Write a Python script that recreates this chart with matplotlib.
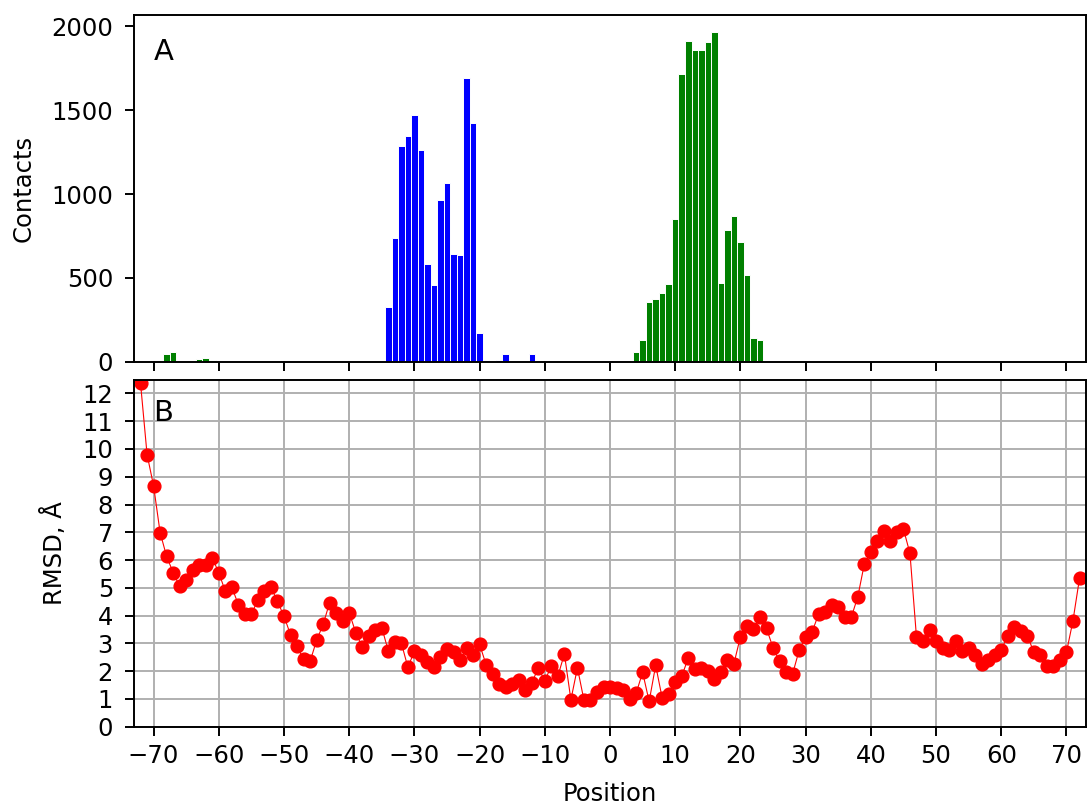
import numpy as np
import matplotlib
matplotlib.use("Agg")
import matplotlib.pyplot as plt

# contacts per position (two chains)
blue_pos = [-35, -34, -33, -32, -31, -30, -29, -28, -27, -26, -25, -24, -23,
            -22, -21, -20, -19, -17, -16, -12]
blue_vals = [6, 328, 737, 1287, 1348, 1474, 1265, 582, 457, 967, 1063, 645, 636,
             1690, 1426, 173, 12, 10, 44, 47]

green_pos = [-68, -67, -63, -62, -61,
             4, 5, 6, 7, 8, 9, 10, 11, 12, 13, 14, 15, 16, 17, 18, 19, 20,
             21, 22, 23, 24]
green_vals = [44, 58, 16, 24, 10,
              56, 129, 357, 371, 407, 461, 854, 1714, 1911, 1861, 1857, 1907,
              1964, 467, 788, 868, 715, 516, 143, 129, 4]

# RMSD per position, -72 .. 72
rmsd_pos = list(range(-72, 73))
rmsd = [12.36, 9.8, 8.67, 6.99, 6.13, 5.55, 5.05, 5.27, 5.63, 5.83,   # -72..-63
        5.81, 6.07, 5.55, 4.87, 5.03, 4.39, 4.07, 4.07, 4.55, 4.87,   # -62..-53
        5.03, 4.51, 3.98, 3.31, 2.89, 2.42, 2.35, 3.11, 3.68, 4.47,   # -52..-43
        4.11, 3.81, 4.11, 3.39, 2.87, 3.27, 3.47, 3.57, 2.72, 3.05,   # -42..-33
        3.01, 2.14, 2.72, 2.57, 2.33, 2.14, 2.51, 2.81, 2.69, 2.39,   # -32..-23
        2.83, 2.59, 2.96, 2.23, 1.88, 1.54, 1.42, 1.54, 1.69, 1.33,   # -22..-13
        1.57, 2.12, 1.64, 2.2, 1.82, 2.62, 0.97, 2.12, 0.96, 0.97,    # -12..-3
        1.24, 1.44, 1.44, 1.39, 1.33, 0.99, 1.2, 1.96, 0.91, 2.21,    # -2..7
        1.03, 1.18, 1.6, 1.82, 2.47, 2.08, 2.12, 2.0, 1.72, 1.96,     # 8..17
        2.39, 2.27, 3.24, 3.62, 3.5, 3.94, 3.54, 2.84, 2.35, 1.96,    # 18..27
        1.9, 2.75, 3.24, 3.42, 4.06, 4.12, 4.38, 4.3, 3.94, 3.94,     # 28..37
        4.68, 5.86, 6.28, 6.7, 7.06, 6.67, 7.0, 7.12, 6.24, 3.22,     # 38..47
        3.07, 3.48, 3.1, 2.83, 2.76, 3.1, 2.74, 2.83, 2.58, 2.26,     # 48..57
        2.4, 2.59, 2.77, 3.28, 3.6, 3.46, 3.28, 2.68, 2.59, 2.2,      # 58..67
        2.17, 2.4, 2.68, 3.82, 5.34]                                  # 68..72

s = 1.75  # scale relative to default sizes
plt.rcParams['font.size'] = 10 * s
plt.rcParams['axes.linewidth'] = 0.8 * s
plt.rcParams['xtick.major.size'] = 3.5 * s
plt.rcParams['ytick.major.size'] = 3.5 * s
plt.rcParams['xtick.major.width'] = 0.8 * s
plt.rcParams['ytick.major.width'] = 0.8 * s
plt.rcParams['xtick.major.pad'] = 3.5 * s
plt.rcParams['ytick.major.pad'] = 9

fig = plt.figure(figsize=(10.87, 8.07), dpi=100)
ax1 = fig.add_axes([0.1233, 0.5518, 0.8758, 0.429])
ax2 = fig.add_axes([0.1233, 0.0995, 0.8758, 0.4302])

# top: contacts
ax1.bar(blue_pos, blue_vals, width=1.0, color='blue', edgecolor='white', linewidth=0.7)
ax1.bar(green_pos, green_vals, width=1.0, color='green', edgecolor='white', linewidth=0.7)
ax1.set_xlim(-73, 73)
ax1.set_ylim(0, 2065)
ax1.set_xticks(np.arange(-70, 71, 10))
ax1.set_xticklabels([])
ax1.set_yticks([0, 500, 1000, 1500, 2000])
ax1.set_ylabel('Contacts', labelpad=11)
ax1.text(-70, 1800, 'A', fontsize=12 * s)

# bottom: RMSD
ax2.plot(rmsd_pos, rmsd, color='red', marker='o', markersize=9.2, linewidth=0.8)
ax2.set_xlim(-73, 73)
ax2.set_ylim(0, 12.5)
ax2.set_xticks(np.arange(-70, 71, 10))
ax2.set_yticks(np.arange(0, 13, 1))
ax2.grid(True, color='#b0b0b0', linewidth=0.8 * s)
ax2.set_axisbelow(True)
ax2.set_xlabel('Position', labelpad=10.5)
ax2.set_ylabel('RMSD, Å', labelpad=11)
ax2.text(-70, 11, 'B', fontsize=12 * s)

fig.savefig('out.png', dpi=100)
